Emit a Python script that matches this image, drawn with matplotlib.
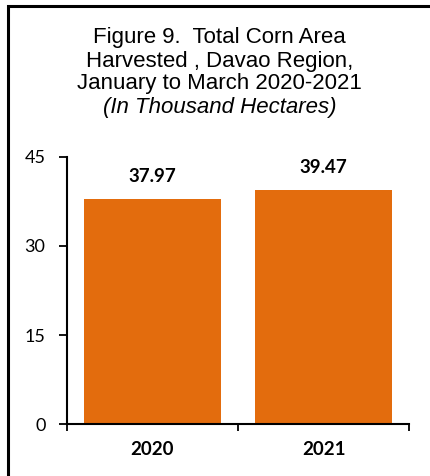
import matplotlib
matplotlib.use("Agg")
import matplotlib.pyplot as plt
from matplotlib.patches import Rectangle

# ── Data ─────────────────────────────────────────────────────────────────────
years = ["2020", "2021"]
area = [37.97, 39.47]
y_ticks = [0, 15, 30, 45]

BAR_COLOR = "#E36C0D"
TICK_FONT = "Lato"
TITLE_FONT = "Liberation Sans"

fig = plt.figure(figsize=(4.30, 4.76), dpi=100)
ax = fig.add_axes([0.1558, 0.1092, 0.7954, 0.5610])

x = list(range(len(years)))
ax.bar(x, area, width=0.8, color=BAR_COLOR, zorder=2)

for xi, v in zip(x, area):
    ax.annotate(f"{v:.2f}", (xi, v), xytext=(0, 16), textcoords="offset points",
                ha="center", va="center", fontsize=13.5, fontweight="bold",
                family=TICK_FONT)

ax.set_xlim(-0.5, len(years) - 0.5)
ax.set_ylim(0, 45)
ax.set_yticks(y_ticks)
ax.set_yticklabels([str(t) for t in y_ticks], family=TICK_FONT, fontsize=13)
ax.set_xticks(x)
ax.set_xticklabels(years, family=TICK_FONT, fontsize=13.5, fontweight="bold")
ax.set_xticks([-0.5, 0.5, 1.5], minor=True)
ax.tick_params(axis="x", which="major", length=0, pad=12)
ax.tick_params(axis="x", which="minor", length=5, width=1.3, direction="out")
ax.tick_params(axis="y", length=5.5, width=1.3, direction="out", pad=10)

for side in ["top", "right"]:
    ax.spines[side].set_visible(False)
for side in ["left", "bottom"]:
    ax.spines[side].set_linewidth(1.5)

# title block
title_lines = ["Figure 9.  Total Corn Area", "Harvested , Davao Region,",
               "January to March 2020-2021"]
for i, line in enumerate(title_lines):
    fig.text(0.51, 1 - (38 + 23 * i) / 476, line, ha="center", va="center",
             fontsize=16, family=TITLE_FONT)
fig.text(0.51, 1 - 107 / 476, "(In Thousand Hectares)", ha="center",
         va="center", fontsize=16, style="italic", family=TITLE_FONT)

# outer frame (right/bottom edges fall outside the image)
fig.patches.append(Rectangle((8 / 430, -0.1), 1.2, 1 - 6 / 476 + 0.1,
                             transform=fig.transFigure, fill=False,
                             edgecolor="black", linewidth=2.2))

fig.savefig("out.png", dpi=100)
